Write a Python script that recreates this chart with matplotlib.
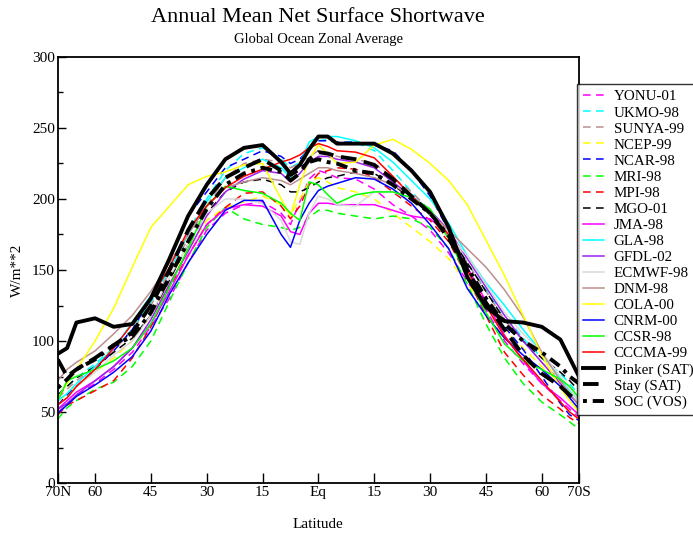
import matplotlib
matplotlib.use("Agg")
import matplotlib.pyplot as plt

plt.rcParams['font.family'] = ['Liberation Serif', 'DejaVu Serif']

# latitude grid (positive = N, negative = S)
LAT = [70, 67.5, 65, 60, 55, 50, 45, 40, 35, 30, 25, 20, 15, 10, 7.5, 5, 2.5, 0,
       -2.5, -5, -10, -15, -20, -25, -30, -35, -40, -45, -50, -55, -60, -65, -67.5, -70]

YONU_01 = [50, 55, 62, 70, 80, 92, 110, 130, 155, 178, 190, 196, 198, 190, 182, 198, 214, 220,
           218, 215, 214, 207, 196, 188, 178, 162, 142, 122, 100, 84, 70, 58, 52, 46]
UKMO_98 = [62, 68, 74, 84, 95, 108, 127, 150, 177, 200, 220, 232, 236, 228, 222, 226, 236, 241,
           242, 240, 240, 234, 220, 205, 191, 175, 155, 136, 118, 102, 88, 77, 70, 62]
SUNYA_99 = [60, 66, 72, 82, 93, 108, 125, 148, 172, 195, 215, 225, 228, 226, 222, 225, 230, 234,
            232, 230, 228, 225, 215, 205, 192, 175, 155, 135, 115, 100, 85, 72, 65, 58]
NCEP_99 = [58, 62, 68, 78, 88, 100, 118, 140, 165, 185, 194, 198, 202, 196, 189, 200, 212, 215,
           212, 208, 205, 200, 190, 180, 170, 158, 140, 125, 108, 95, 82, 70, 64, 58]
NCAR_98 = [55, 62, 68, 80, 93, 108, 130, 158, 188, 205, 222, 228, 234, 230, 225, 228, 236, 241,
           241, 240, 240, 238, 234, 220, 202, 178, 150, 127, 110, 94, 75, 56, 48, 44]
MRI_98 = [45, 53, 58, 66, 71, 82, 100, 128, 155, 180, 194, 186, 182, 180, 178, 180, 187, 192,
          192, 190, 188, 186, 188, 186, 180, 165, 140, 112, 88, 70, 57, 48, 43, 38]
MPI_98 = [48, 55, 58, 65, 72, 88, 110, 138, 160, 182, 194, 204, 205, 195, 186, 195, 210, 218,
          220, 222, 221, 215, 205, 195, 185, 170, 145, 118, 92, 76, 62, 52, 46, 42]
MGO_01 = [62, 68, 74, 82, 92, 102, 118, 143, 168, 190, 205, 212, 214, 210, 205, 205, 208, 212,
          215, 216, 219, 218, 210, 200, 190, 175, 155, 135, 115, 100, 88, 78, 72, 65]
JMA_98 = [52, 58, 64, 72, 82, 95, 112, 135, 160, 182, 193, 196, 195, 188, 177, 175, 190, 197,
          197, 196, 196, 196, 192, 188, 186, 175, 152, 128, 104, 86, 70, 60, 54, 48]
GLA_98 = [58, 63, 70, 82, 95, 113, 132, 150, 175, 198, 215, 222, 228, 222, 215, 225, 240, 244,
          244, 244, 241, 236, 226, 213, 200, 183, 160, 141, 125, 108, 92, 74, 65, 58]
GFDL_02 = [52, 56, 62, 72, 82, 95, 115, 140, 163, 188, 205, 214, 220, 218, 212, 218, 226, 230,
           230, 228, 226, 222, 212, 202, 192, 178, 158, 138, 118, 100, 85, 70, 62, 55]
ECMWF_98 = [55, 60, 68, 78, 90, 100, 118, 145, 168, 190, 200, 200, 197, 185, 170, 168, 190, 202,
            200, 196, 195, 205, 205, 200, 192, 175, 160, 140, 120, 105, 92, 75, 66, 58]
DNM_98 = [72, 80, 85, 93, 105, 118, 135, 155, 175, 195, 208, 212, 215, 213, 210, 214, 218, 222,
          222, 220, 218, 215, 210, 202, 190, 178, 165, 152, 136, 117, 92, 72, 63, 55]
COLA_00 = [60, 70, 80, 100, 123, 152, 180, 195, 210, 216, 219, 224, 225, 200, 188, 210, 228, 238,
           232, 225, 226, 238, 242, 235, 225, 213, 196, 171, 146, 118, 90, 67, 58, 50]
CNRM_00 = [49, 55, 61, 69, 78, 89, 107, 133, 155, 175, 192, 199, 199, 175, 166, 185, 197, 206,
           209, 211, 215, 214, 207, 197, 182, 165, 137, 118, 102, 90, 80, 68, 60, 52]
CCSR_98 = [58, 72, 75, 80, 86, 95, 112, 138, 165, 195, 209, 206, 204, 197, 190, 185, 212, 210,
           203, 197, 203, 205, 205, 201, 193, 172, 145, 120, 98, 86, 80, 73, 68, 60]
CCCMA_99 = [55, 60, 68, 80, 95, 112, 130, 152, 178, 195, 208, 216, 221, 226, 228, 231, 236, 239,
            237, 234, 233, 229, 216, 202, 190, 175, 150, 125, 103, 87, 72, 57, 50, 45]
PINKER_SAT = [91, 95, 113, 116, 110, 112, 130, 158, 188, 210, 228, 236, 238, 226, 218, 224, 235, 244,
              244, 239, 239, 239, 232, 220, 205, 180, 145, 124, 114, 113, 110, 101, 88, 75]
STAY_SAT = [87, 75, 80, 88, 97, 106, 125, 150, 178, 200, 215, 222, 228, 220, 213, 218, 228, 233,
            232, 230, 228, 224, 214, 202, 190, 172, 150, 127, 108, 90, 77, 68, 62, 57]
SOC_VOS = [67, 73, 80, 87, 97, 103, 120, 145, 170, 193, 210, 218, 222, 219, 217, 221, 226, 228,
           226, 225, 220, 218, 210, 200, 190, 174, 152, 130, 112, 100, 92, 82, 75, 70]

NAMES = ["YONU-01", "UKMO-98", "SUNYA-99", "NCEP-99", "NCAR-98", "MRI-98", "MPI-98", "MGO-01",
         "JMA-98", "GLA-98", "GFDL-02", "ECMWF-98", "DNM-98", "COLA-00", "CNRM-00", "CCSR-98",
         "CCCMA-99", "Pinker (SAT)", "Stay (SAT)", "SOC (VOS)"]
SERIES = [YONU_01, UKMO_98, SUNYA_99, NCEP_99, NCAR_98, MRI_98, MPI_98, MGO_01,
          JMA_98, GLA_98, GFDL_02, ECMWF_98, DNM_98, COLA_00, CNRM_00, CCSR_98,
          CCCMA_99, PINKER_SAT, STAY_SAT, SOC_VOS]

COLORS = ["#ff00ff", "#00ffff", "#bc8f8f", "#ffff00", "#0000ff", "#00ff00", "#ff0000", "#000000",
          "#ff00ff", "#00ffff", "#a020f0", "#d9d9d9", "#bc8f8f", "#ffff00", "#0000ff", "#00ff00",
          "#ff0000", "#000000", "#000000", "#000000"]
DASH = (0, (5, 3.5))
STYLES = [DASH] * 8 + ["-"] * 9 + ["-", (0, (4, 2)), (0, (1, 1.5, 3, 1.5))]
WIDTHS = [1.1] * 17 + [2.8, 2.8, 2.8]

fig = plt.figure(figsize=(6.93, 5.35), dpi=100)
ax = fig.add_axes([57.8 / 693, 1 - 483 / 535, (579 - 57.8) / 693, (483 - 57) / 535])

handles = []
for name, vals, c, ls, lw in zip(NAMES, SERIES, COLORS, STYLES, WIDTHS):
    ln, = ax.plot(LAT, vals, color=c, linestyle=ls, linewidth=lw, label=name)
    handles.append(ln)

ax.set_xlim(70, -70)
ax.set_ylim(0, 300)
ax.set_xticks([70, 60, 45, 30, 15, 0, -15, -30, -45, -60, -70])
ax.set_xticklabels(["70N", "60", "45", "30", "15", "Eq", "15", "30", "45", "60", "70S"])
ax.set_yticks([0, 50, 100, 150, 200, 250, 300])
ax.set_yticks([25, 75, 125, 175, 225, 275], minor=True)
ax.tick_params(axis='both', which='major', direction='in', labelsize=11, pad=2)
ax.tick_params(axis='x', which='major', length=7, width=1)
ax.tick_params(axis='y', which='major', length=6, width=1)
ax.tick_params(axis='y', which='minor', direction='in', length=3.5, width=1)
for s in ax.spines.values():
    s.set_linewidth(1.3)

ax.set_xlabel("Latitude", fontsize=11, labelpad=14)
ax.set_ylabel("W/m**2", fontsize=11, labelpad=6)

fig.text(318 / 693, 1 - 18 / 535, "Annual Mean Net Surface Shortwave", ha='center', va='center', fontsize=16)
fig.text(318 / 693, 1 - 39 / 535, "Global Ocean Zonal Average", ha='center', va='center', fontsize=10.5)

leg = fig.legend(handles=handles, loc='upper left', bbox_to_anchor=(577 / 693, 1 - 84 / 535),
                 frameon=True, fancybox=False, edgecolor='black', fontsize=10.8,
                 handlelength=1.4, handletextpad=0.65, labelspacing=0.17, borderpad=0.4,
                 borderaxespad=0)
leg.get_frame().set_linewidth(1.0)

fig.savefig("out.png", dpi=100)
